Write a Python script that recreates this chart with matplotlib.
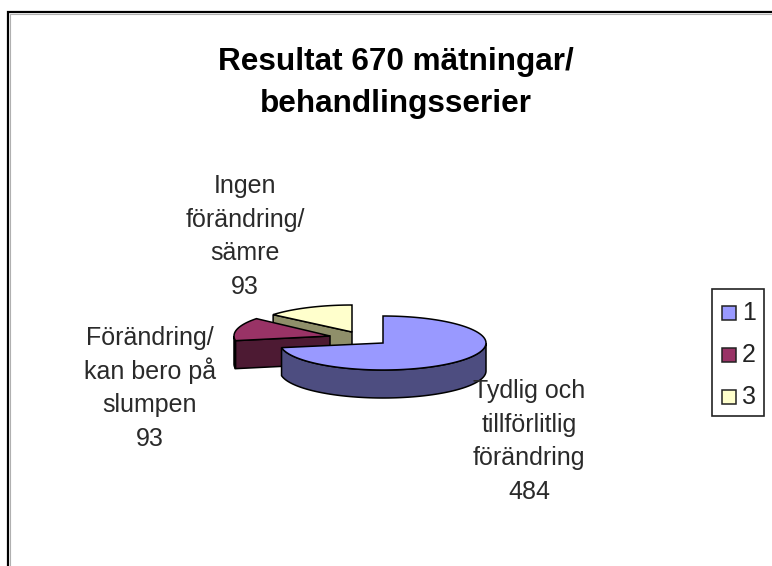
import numpy as np
import matplotlib
matplotlib.use("Agg")
import matplotlib.pyplot as plt
from matplotlib.patches import Rectangle

title_lines = ["Resultat 670 mätningar/", "behandlingsserier"]
values = [484, 93, 93]
legend_names = ["1", "2", "3"]
slice_labels = [["Tydlig och", "tillförlitlig", "förändring", "484"],
                ["Förändring/", "kan bero på", "slumpen", "93"],
                ["Ingen", "förändring/", "sämre", "93"]]
top_colors = ["#9999ff", "#993366", "#ffffcc"]
wall_colors = ["#4d4d80", "#4d1a33", "#8f8f6a"]

plt.rcParams['font.family'] = ['Liberation Sans', 'DejaVu Sans']
W, H = 772, 566
fig = plt.figure(figsize=(W / 100, H / 100), dpi=100, facecolor="white")
ax = fig.add_axes([0, 0, 1, 1])
ax.set_xlim(0, W)
ax.set_ylim(H, 0)
ax.axis("off")

# frame (only top and left are visible)
ax.plot([8, 8, W], [H, 12, 12], color="black", lw=1.6, solid_joinstyle="miter")
ax.plot([9.5, 9.5, W], [H, 13.5, 13.5], color="#b0b0b0", lw=0.8)

# pie geometry
RXS, RY, DEPTH = [103, 96, 103], 27, 28
apex = [(383, 343), (330, 336), (352, 332)]
fractions = np.array(values) / sum(values)
edges = np.concatenate([[0], np.cumsum(fractions)]) * 2 * np.pi  # clockwise from north


def rim(cx, cy, rx, a0, a1, n=120):
    a = np.linspace(a0, a1, n)
    return cx + rx * np.sin(a), cy - RY * np.cos(a)


for i in [2, 1, 0]:
    cx, cy = apex[i]
    rx = RXS[i]
    a0, a1 = edges[i], edges[i + 1]
    base = (2 - i) * 3
    # cut face at the start of the slice (visible for the two exploded slices)
    if i > 0:
        x = [cx, cx + rx * np.sin(a0), cx + rx * np.sin(a0), cx]
        y = [cy, cy - RY * np.cos(a0), cy - RY * np.cos(a0) + DEPTH, cy + DEPTH]
        ax.fill(x, y, facecolor=wall_colors[i], edgecolor="black", lw=1.1, zorder=2 + base)
    # outer wall (front half only)
    lo, hi = max(a0, np.pi / 2), min(a1, 3 * np.pi / 2)
    if hi > lo:
        xs, ys = rim(cx, cy, rx, lo, hi)
        ax.fill(np.r_[xs, xs[::-1]], np.r_[ys, ys[::-1] + DEPTH],
                facecolor=wall_colors[i], edgecolor="black", lw=1.1, zorder=3 + base)
    # top face
    xs, ys = rim(cx, cy, rx, a0, a1)
    ax.fill(np.r_[cx, xs], np.r_[cy, ys], facecolor=top_colors[i], edgecolor="black",
            lw=1.1, zorder=4 + base)

# texts: each line placed on its own baseline so that spacing stays even
for lines, xc, last in zip(slice_labels, [529, 150, 245], [499, 446, 294]):
    for j, line in enumerate(lines):
        ax.text(xc, last - (len(lines) - 1 - j) * 33.6, line, color="#2a2a2a", ha="center",
                va="baseline", fontsize=18, zorder=20)
for line, yb in zip(title_lines, [70, 112]):
    ax.text(396, yb, line, color="black", ha="center", va="baseline",
            fontsize=22.7, fontweight="bold", zorder=20)

# legend
ax.add_patch(Rectangle((712, 289), 52, 127, fc="white", ec="#222222", lw=1.2, zorder=5))
for name, color, y in zip(legend_names, top_colors, [313, 355, 397]):
    ax.add_patch(Rectangle((722, y - 7), 14, 14, fc=color, ec="#222222", lw=1.1, zorder=6))
    ax.text(742, y, name, fontsize=18, color="#222222", ha="left", va="center", zorder=6)

fig.savefig("out.png", dpi=100)
